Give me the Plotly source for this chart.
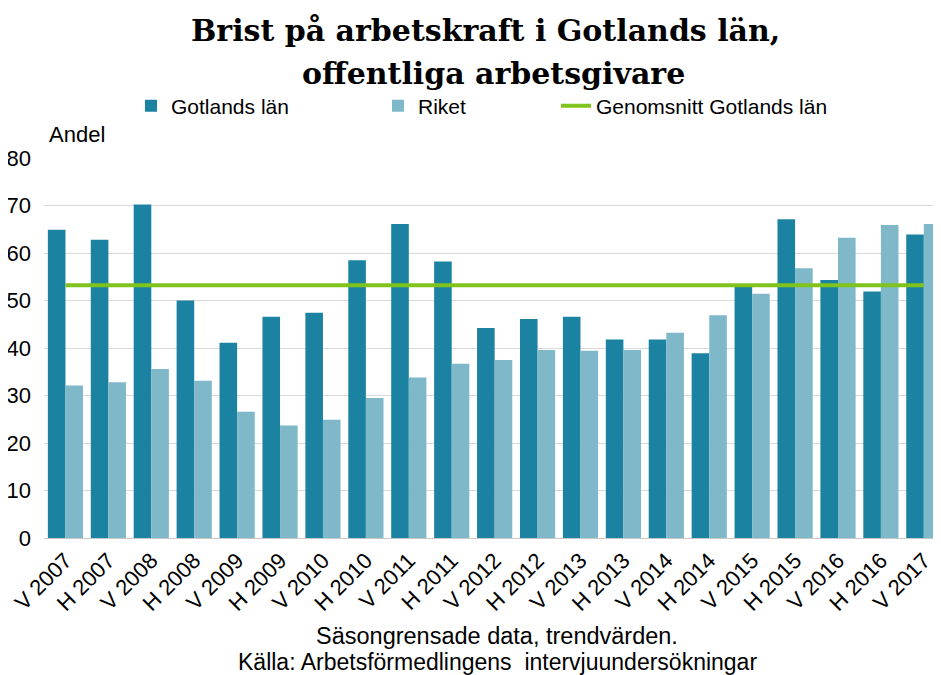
import plotly.graph_objects as go

categories = ["V 2007", "H 2007", "V 2008", "H 2008", "V 2009", "H 2009", "V 2010",
              "H 2010", "V 2011", "H 2011", "V 2012", "H 2012", "V 2013", "H 2013",
              "V 2014", "H 2014", "V 2015", "H 2015", "V 2016", "H 2016", "V 2017"]
gotland = [64.9, 62.8, 70.2, 50.0, 41.1, 46.6, 47.4, 58.5, 66.1, 58.2, 44.2,
           46.1, 46.6, 41.8, 41.8, 38.9, 53.2, 67.1, 54.3, 51.9, 63.9]
riket = [32.1, 32.8, 35.6, 33.1, 26.6, 23.7, 24.9, 29.5, 33.8, 36.7, 37.5,
         39.6, 39.4, 39.6, 43.2, 46.9, 51.4, 56.8, 63.2, 65.9, 66.1]
genomsnitt = 53.2
y_ticks = [0, 10, 20, 30, 40, 50, 60, 70, 80]
title_lines = ["Brist på arbetskraft i Gotlands län,", "offentliga arbetsgivare"]
notes = ["Säsongrensade data, trendvärden.",
         "Källa: Arbetsförmedlingens  intervjuundersökningar"]

FONT = "Liberation Sans, Arial, sans-serif"
TFONT = "DejaVu Serif, serif"

# plot area in reference pixels: x 44..941, y 158 (80) .. 538 (0)
def px(x):
    return (x - 44) / 897

def py(y):
    return (538 - y) / 380

fig = go.Figure()
fig.add_trace(go.Bar(x=categories, y=gotland, name="Gotlands län",
                     marker=dict(color="#1b83a1", line=dict(width=0)), legend="legend"))
fig.add_trace(go.Bar(x=categories, y=riket, name="Riket",
                     marker=dict(color="#7fb8c9", line=dict(width=0)), legend="legend2"))
fig.add_trace(go.Scatter(x=categories, y=[genomsnitt] * len(categories), mode="lines",
                         name="Genomsnitt Gotlands län",
                         line=dict(color="#7fc31c", width=4), legend="legend3"))

leg_common = dict(orientation="h", yanchor="middle", y=py(106), xanchor="left",
                  font=dict(family=FONT, size=21, color="#000000"),
                  bgcolor="rgba(0,0,0,0)", borderwidth=0, visible=True)

fig.update_layout(
    width=933, height=667,
    margin=dict(l=36, r=0, t=150, b=137),
    paper_bgcolor="white", plot_bgcolor="white",
    showlegend=True,
    barmode="group", bargap=0.18, bargroupgap=0,
    legend=dict(x=px(131), **leg_common),
    legend2=dict(x=px(378), **leg_common),
    legend3=dict(x=px(556), **leg_common),
    xaxis=dict(type="category", range=[-0.5, 20.4], tickmode="array",
               tickvals=categories, ticktext=categories, tickangle=-45,
               tickfont=dict(family=FONT, size=22, color="#000000"),
               showgrid=False, showline=True, linecolor="#c8c8c8", linewidth=1,
               ticks=""),
    yaxis=dict(range=[0, 80], tickmode="array", tickvals=y_ticks,
               tickfont=dict(family=FONT, size=22, color="#000000"),
               showgrid=True, gridcolor="#d9d9d9", gridwidth=1,
               zeroline=False, showline=False, ticks="", ticklabelstandoff=12),
    annotations=[
        dict(text="<b>" + title_lines[0] + "</b>", xref="paper", yref="paper",
             x=px(485), y=py(31), xanchor="center", yanchor="middle", showarrow=False,
             font=dict(family=TFONT, size=30, color="#000000")),
        dict(text="<b>" + title_lines[1] + "</b>", xref="paper", yref="paper",
             x=px(493), y=py(74), xanchor="center", yanchor="middle", showarrow=False,
             font=dict(family=TFONT, size=30, color="#000000")),
        dict(text="Andel", xref="paper", yref="paper", x=px(47), y=py(135),
             xanchor="left", yanchor="middle", showarrow=False,
             font=dict(family=FONT, size=22, color="#000000")),
        dict(text=notes[0], xref="paper", yref="paper",
             x=px(497), y=py(636), xanchor="center", yanchor="middle",
             showarrow=False, font=dict(family=FONT, size=23.5, color="#000000")),
        dict(text=notes[1], xref="paper", yref="paper",
             x=px(498), y=py(662), xanchor="center", yanchor="middle",
             showarrow=False, font=dict(family=FONT, size=23, color="#000000")),
    ],
)

fig.write_html("out.html")
